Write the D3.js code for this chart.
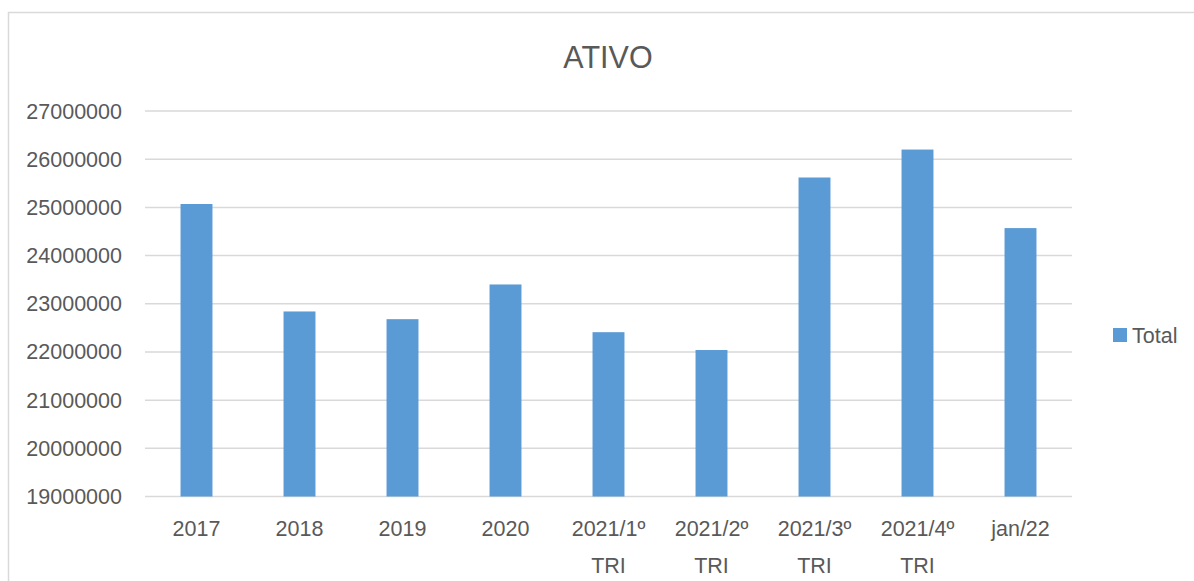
<!DOCTYPE html>
<html>
<head>
<meta charset="utf-8">
<script src="https://cdn.jsdelivr.net/npm/d3@7"></script>
<style>
    body { margin: 0; background: #fff; }
    svg { display: block; font-family: "Liberation Sans", Arial, sans-serif; }
</style>
</head>
<body>
<div id="chart"></div>
<script>
const categories = ["2017", "2018", "2019", "2020", "2021/1º TRI", "2021/2º TRI", "2021/3º TRI", "2021/4º TRI", "jan/22"];
const totals = [25070000, 22840000, 22680000, 23400000, 22410000, 22040000, 25620000, 26200000, 24570000];
const yTicks = [19000000, 20000000, 21000000, 22000000, 23000000, 24000000, 25000000, 26000000, 27000000];

const width = 1194;
const height = 581;
const plot = { left: 145, right: 1072, top: 111, bottom: 496.5 };
const barColor = "#5b9bd5";
const gridColor = "#d9d9d9";
const textColor = "#595959";

const svg = d3.select("#chart")
    .append("svg")
    .attr("width", width)
    .attr("height", height);

// chart area border
svg.append("rect")
    .attr("x", 8.5)
    .attr("y", 12.5)
    .attr("width", 1300)
    .attr("height", 700)
    .attr("fill", "none")
    .attr("stroke", gridColor)
    .attr("stroke-width", 1.5);

const x = d3.scaleBand()
    .domain(categories)
    .range([plot.left, plot.right])
    .paddingInner(0.69)
    .paddingOuter(0.345);

const y = d3.scaleLinear()
    .domain([19000000, 27000000])
    .range([plot.bottom, plot.top]);

// gridlines
svg.append("g")
    .selectAll("line")
    .data(yTicks)
    .join("line")
    .attr("x1", plot.left)
    .attr("x2", plot.right)
    .attr("y1", d => y(d))
    .attr("y2", d => y(d))
    .attr("stroke", gridColor)
    .attr("stroke-width", 1.5);

// y labels
svg.append("g")
    .selectAll("text")
    .data(yTicks)
    .join("text")
    .attr("x", 122)
    .attr("y", d => y(d))
    .attr("dy", "0.35em")
    .attr("text-anchor", "end")
    .attr("font-size", "21.5px")
    .attr("fill", textColor)
    .text(d => d3.format("d")(d));

// bars
svg.append("g")
    .selectAll("rect")
    .data(categories)
    .join("rect")
    .attr("x", d => x(d))
    .attr("width", x.bandwidth())
    .attr("y", (d, i) => y(totals[i]))
    .attr("height", (d, i) => y(19000000) - y(totals[i]))
    .attr("fill", barColor);

// x labels (two lines where needed)
const xLabels = svg.append("g")
    .selectAll("text")
    .data(categories)
    .join("text")
    .attr("text-anchor", "middle")
    .attr("font-size", "21.5px")
    .attr("fill", textColor);

xLabels.selectAll("tspan")
    .data(d => d.split(" ").map(line => ({ line, cat: d })))
    .join("tspan")
    .attr("x", d => x(d.cat) + x.bandwidth() / 2)
    .attr("y", (d, i) => 536 + i * 37)
    .text(d => d.line);

// title
svg.append("text")
    .attr("x", 608)
    .attr("y", 67.5)
    .attr("text-anchor", "middle")
    .attr("font-size", "30.5px")
    .attr("fill", textColor)
    .text("ATIVO");

// legend
const legend = svg.append("g").attr("transform", "translate(1113, 328)");
legend.append("rect")
    .attr("width", 14)
    .attr("height", 14)
    .attr("fill", barColor);
legend.append("text")
    .attr("x", 19)
    .attr("y", 7)
    .attr("dy", "0.35em")
    .attr("font-size", "21.5px")
    .attr("fill", textColor)
    .text("Total");
</script>
</body>
</html>
